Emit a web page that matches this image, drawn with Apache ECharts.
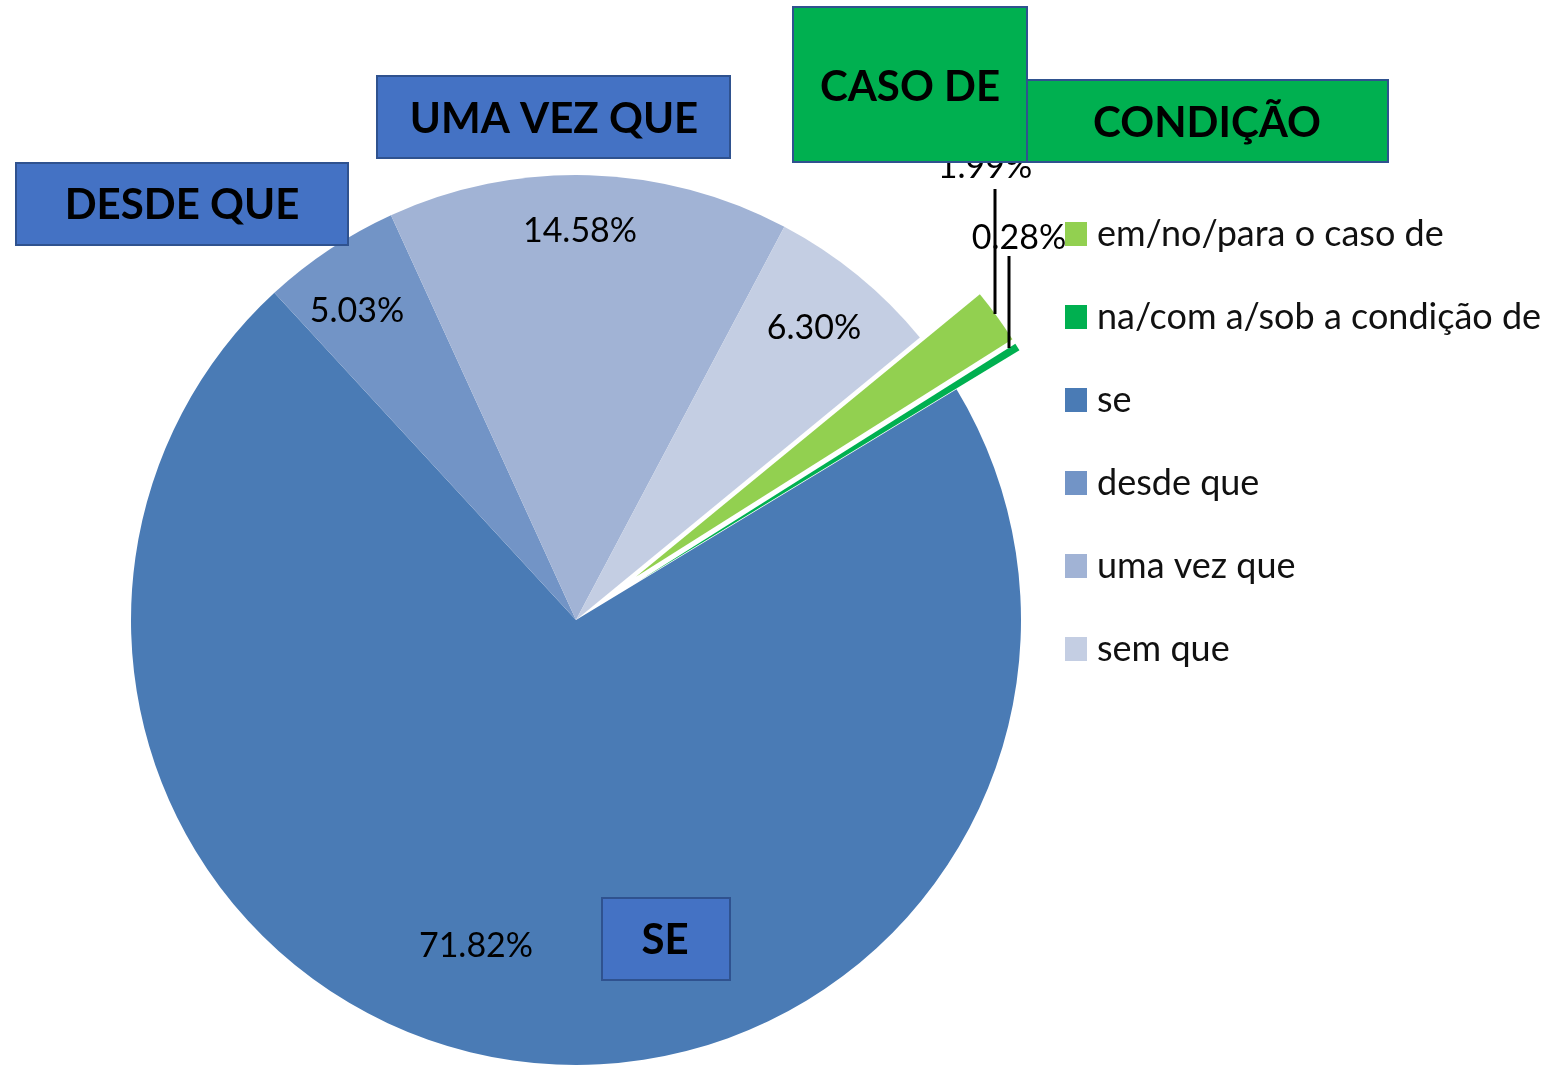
<!DOCTYPE html>
<html>
<head>
<meta charset="utf-8">
<script src="https://cdn.jsdelivr.net/npm/echarts@6/dist/echarts.min.js"></script>
<style>
html,body{margin:0;padding:0;background:#fff;}
#chart{width:1552px;height:1066px;}
</style>
</head>
<body>
<div id="chart"></div>
<script>
// ---- data ----
const categories = ['em/no/para o caso de', 'na/com a/sob a condição de', 'se', 'desde que', 'uma vez que', 'sem que'];
const values = [1.99, 0.28, 71.82, 5.03, 14.58, 6.30];
const explodedSlices = [true, true, false, false, false, false];

// ---- styles ----
const sliceColors = ['#92D050', '#00B050', '#4A7BB5', '#7294C6', '#A1B3D5', '#C4CEE3'];
const labelCenters = [[985, 167], [1019, 238], [476, 946], [357, 311], [580, 231], [814, 328]];
const leaderLines = [
  [[995, 314], [995, 189]],
  [[1009, 348], [1009, 256]],
  null, null, null, null
];
const boxes = [
  {text: 'DESDE QUE', x: 16, y: 163, w: 332, h: 82, fill: '#4472C4', tx: 182, ty: 205},
  {text: 'UMA VEZ QUE', x: 377, y: 76, w: 353, h: 82, fill: '#4472C4', tx: 554, ty: 119},
  {text: 'CONDIÇÃO', x: 1027, y: 80, w: 361, h: 82, fill: '#00B050', tx: 1207, ty: 123},
  {text: 'CASO DE', x: 793, y: 7, w: 234, h: 155, fill: '#00B050', tx: 910, ty: 87},
  {text: 'SE', x: 602, y: 898, w: 128, h: 82, fill: '#4472C4', tx: 665, ty: 940}
];
const FONT = 'Lato, "Liberation Sans", sans-serif';
const PIE_CENTER = [576, 620];
const PIE_RADIUS = 445;
const START_ANGLE = 39.4;

const chart = echarts.init(document.getElementById('chart'), null, {renderer: 'canvas'});

const labelFmt = p => p.value.toFixed(2) + '%';
const labelStyle = {fontFamily: FONT, fontSize: 34, color: '#000'};

// Main pie: sectors (exploded via selection) + labels of unexploded slices
const mainData = categories.map((name, i) => ({
  name: name,
  value: values[i],
  selected: explodedSlices[i],
  itemStyle: {color: sliceColors[i]},
  select: {itemStyle: {color: sliceColors[i]}},
  label: {show: !leaderLines[i]}
}));

// Label pie: same slices, invisible sectors, carries the leader-line labels
const labelData = categories.map((name, i) => ({
  name: name,
  value: values[i],
  label: {show: !!leaderLines[i]},
  labelLine: {show: !!leaderLines[i]}
}));

const graphics = [];
boxes.forEach(b => {
  graphics.push({
    type: 'rect', z: 100,
    shape: {x: b.x, y: b.y, width: b.w, height: b.h},
    style: {fill: b.fill, stroke: '#2F528F', lineWidth: 2}
  });
  graphics.push({
    type: 'text', z: 101,
    x: b.tx, y: b.ty,
    style: {text: b.text, fill: '#000', font: 'bold 42px ' + FONT, textAlign: 'center', textVerticalAlign: 'middle'}
  });
});

chart.setOption({
  animation: false,
  backgroundColor: '#fff',
  legend: {
    orient: 'vertical',
    left: 1065, top: 216,
    padding: 0,
    itemWidth: 22, itemHeight: 24, itemGap: 47,
    icon: 'rect',
    selectedMode: false,
    data: categories.map((n, i) => ({name: n, itemStyle: {color: sliceColors[i]}})),
    textStyle: {fontFamily: FONT, fontSize: 36, lineHeight: 36, color: '#111', padding: [0, 0, 0, 5]}
  },
  graphic: graphics,
  series: [{
    type: 'pie',
    center: PIE_CENTER,
    radius: PIE_RADIUS,
    startAngle: START_ANGLE,
    clockwise: true,
    selectedMode: 'multiple',
    selectedOffset: 74,
    avoidLabelOverlap: false,
    emphasis: {disabled: true},
    itemStyle: {borderWidth: 0},
    label: Object.assign({show: true, position: 'inside', formatter: labelFmt}, labelStyle),
    labelLine: {show: false},
    labelLayout: function (params) {
      const c = labelCenters[params.dataIndex];
      return {x: c[0], y: c[1], align: 'center', verticalAlign: 'middle'};
    },
    data: mainData
  }, {
    type: 'pie',
    center: PIE_CENTER,
    radius: PIE_RADIUS,
    startAngle: START_ANGLE,
    clockwise: true,
    silent: true,
    z: 3,
    avoidLabelOverlap: false,
    emphasis: {disabled: true},
    itemStyle: {color: 'rgba(0,0,0,0)', borderWidth: 0},
    label: Object.assign({show: true, position: 'outside', formatter: labelFmt}, labelStyle),
    labelLine: {show: true, length: 10, length2: 10, minTurnAngle: 0, lineStyle: {color: '#000', width: 3}},
    labelLayout: function (params) {
      const i = params.dataIndex;
      const c = labelCenters[i];
      const o = {x: c[0], y: c[1], align: 'center', verticalAlign: 'middle'};
      if (leaderLines[i]) o.labelLinePoints = leaderLines[i];
      return o;
    },
    data: labelData
  }]
});
</script>
</body>
</html>
